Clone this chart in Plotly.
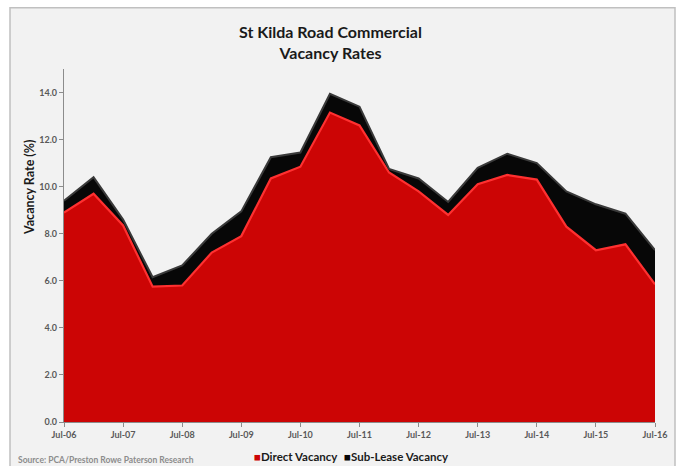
import plotly.graph_objects as go

# Half-yearly observations, Jul-06 to Jul-16
periods = ["Jul-06", "Jan-07", "Jul-07", "Jan-08", "Jul-08", "Jan-09", "Jul-09",
           "Jan-10", "Jul-10", "Jan-11", "Jul-11", "Jan-12", "Jul-12", "Jan-13",
           "Jul-13", "Jan-14", "Jul-14", "Jan-15", "Jul-15", "Jan-16", "Jul-16"]

# Direct vacancy (%)
direct = [8.9, 9.7, 8.35, 5.75, 5.8, 7.2, 7.9, 10.35, 10.85, 13.15, 12.6, 10.6,
          9.8, 8.8, 10.1, 10.5, 10.3, 8.3, 7.3, 7.55, 5.85]

# Total vacancy (%) = direct + sub-lease
total = [9.4, 10.4, 8.6, 6.15, 6.65, 8.0, 8.95, 11.25, 11.45, 13.95, 13.4, 10.75,
         10.35, 9.35, 10.8, 11.4, 11.0, 9.8, 9.25, 8.85, 7.3]

sublease = [round(t - d, 2) for t, d in zip(total, direct)]

series_names = ["Direct Vacancy", "Sub-Lease Vacancy"]

x_idx = list(range(len(periods)))
year_ticks = [i for i, p in enumerate(periods) if p.startswith("Jul")]
year_text = [periods[i] for i in year_ticks]
y_ticks = [0, 2, 4, 6, 8, 10, 12, 14]

FONT = "Lato"
GREY = "#595959"
RED_FILL, RED_EDGE = "#cc0505", "#ff3030"
BLK_FILL, BLK_EDGE = "#070707", "#3a3a3a"

fig = go.Figure()

fig.add_trace(go.Scatter(
    x=x_idx, y=direct, stackgroup="v", name=series_names[0],
    mode="lines", line=dict(color=RED_EDGE, width=2.2),
    fillcolor=RED_FILL, showlegend=False, hoverinfo="skip"))
fig.add_trace(go.Scatter(
    x=x_idx, y=sublease, stackgroup="v", name=series_names[1],
    mode="lines", line=dict(color=BLK_EDGE, width=2),
    fillcolor=BLK_FILL, showlegend=False, hoverinfo="skip"))

# Pixel -> paper helpers for the plot box (l=64, r=655, bottom=421.7, top=69.2)
def px_x(px):
    return (px - 64) / 591


def px_y(py):
    return (421.7 - py) / 352.5


def legend_key(color, label):
    return "<span style='color:%s'>■</span><b>%s</b>" % (color, label)


fig.update_layout(
    width=680, height=466,
    margin=dict(l=64, r=25, t=69, b=44),
    paper_bgcolor="white",
    plot_bgcolor="rgba(0,0,0,0)",
    font=dict(family=FONT, color=GREY),
    title=dict(
        text="<b>St Kilda Road Commercial<br>Vacancy Rates</b>",
        x=0.486, xanchor="center", y=0.918, yanchor="middle",
        font=dict(family=FONT, size=16, color="#1a1a1a")),
    showlegend=False,
    shapes=[dict(type="rect", xref="paper", yref="paper", layer="below",
                 x0=px_x(10), x1=px_x(675), y0=px_y(480), y1=px_y(8),
                 fillcolor="#f2f2f2", line=dict(color="#c0c0c0", width=1.5))],
    annotations=[
        dict(text="<b>Vacancy Rate (%)</b>", textangle=-90, xref="paper", yref="paper",
             x=px_x(30), y=px_y(188), xanchor="center", yanchor="middle", showarrow=False,
             font=dict(family=FONT, size=12.5, color="#1a1a1a")),
        dict(text="<b>Source: PCA/Preston Rowe Paterson Research</b>", xref="paper",
             yref="paper", x=px_x(16), y=px_y(460), xanchor="left", yanchor="middle",
             showarrow=False, font=dict(family=FONT, size=8.5, color="#8c8c8c")),
        dict(text=legend_key(RED_FILL, series_names[0]), xref="paper", yref="paper",
             x=px_x(252), y=px_y(456), xanchor="left", yanchor="middle", showarrow=False,
             font=dict(family=FONT, size=11.5, color="#1a1a1a")),
        dict(text=legend_key(BLK_FILL, series_names[1]), xref="paper", yref="paper",
             x=px_x(342), y=px_y(456), xanchor="left", yanchor="middle", showarrow=False,
             font=dict(family=FONT, size=11.5, color="#1a1a1a")),
    ],
)

fig.update_xaxes(
    range=[0, len(periods) - 1], tickmode="array", tickvals=year_ticks,
    ticktext=["<b>%s</b>" % t for t in year_text],
    showline=True, linecolor="#8c8c8c", linewidth=1.2,
    ticks="outside", ticklen=4, tickcolor="#8c8c8c",
    tickfont=dict(family=FONT, size=9, color=GREY),
    showgrid=False, zeroline=False, automargin=False)
fig.update_yaxes(
    range=[0, 15], tickmode="array", tickvals=y_ticks,
    ticktext=["<b>%.1f</b>" % v for v in y_ticks],
    showline=True, linecolor="#8c8c8c", linewidth=1.2,
    ticks="outside", ticklen=4, tickcolor="#8c8c8c",
    tickfont=dict(family=FONT, size=9, color=GREY),
    showgrid=False, zeroline=False, automargin=False)

fig.write_html("out.html")
